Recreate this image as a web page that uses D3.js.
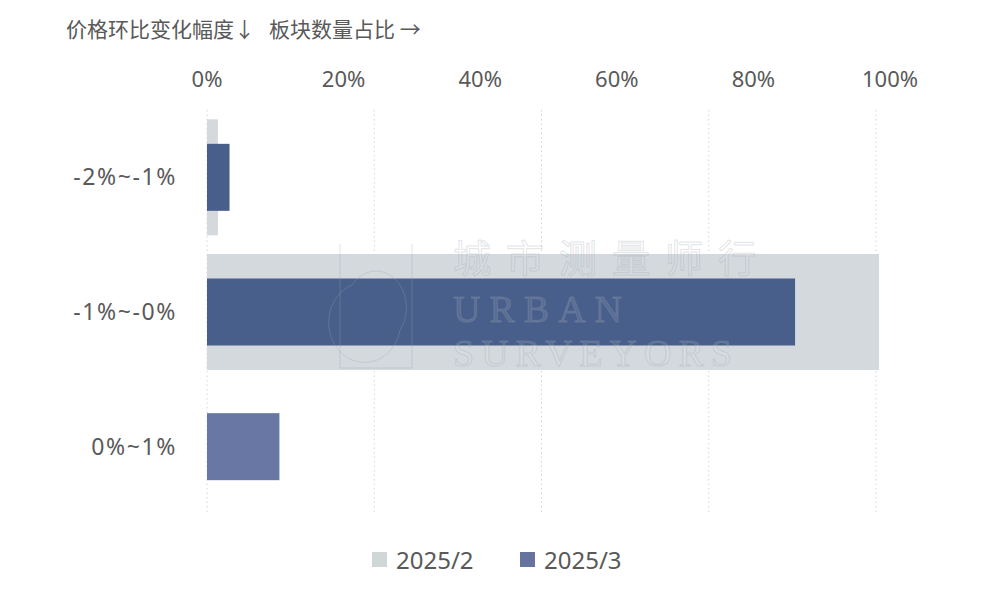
<!DOCTYPE html>
<html><head><meta charset="utf-8">
<script src="https://cdn.jsdelivr.net/npm/d3@7"></script>
<style>
body{margin:0;background:#fff;}
text{font-family:"Noto Sans","Noto Sans CJK SC",sans-serif;}
</style></head>
<body><svg id="c" width="997" height="597"></svg>
<script>
const categories = ["-2%~-1%", "-1%~-0%", "0%~1%"];
const seriesNames = ["2025/2", "2025/3"];
const feb = [0.016, 0.984, 0];
const mar = [0.033, 0.861, 0.106];
const tickValues = [0, 0.2, 0.4, 0.6, 0.8, 1];
const titleText = "价格环比变化幅度↓   板块数量占比 →";

const svg = d3.select("#c");
const x = d3.scaleLinear().domain([0, 1]).range([207, 890]);
const xGrid = d3.scaleLinear().domain([0, 4]).range([207, 876]);
const y = d3.scaleBand().domain(categories).range([110, 514]);
const greyH = 116, blueH = 67;
const cGrey = "#d3d9dd", cBlue = ["#485e8b", "#485e8b", "#6877a3"], cLegBlue = "#67739f", cLegGrey = "#cfd8d7";
const txt = "#595959";

// gridlines
svg.append("g").selectAll("line").data(d3.range(5)).join("line")
  .attr("x1", d => xGrid(d)).attr("x2", d => xGrid(d))
  .attr("y1", 110).attr("y2", 514)
  .attr("stroke", "#d4d4d4").attr("stroke-width", 1).attr("stroke-dasharray", "1.5,3");

// grey bars
svg.append("g").selectAll("rect").data(feb).join("rect")
  .attr("x", x(0)).attr("y", (d, i) => y(categories[i]) + y.bandwidth() / 2 - greyH / 2)
  .attr("width", d => x(d) - x(0)).attr("height", greyH).attr("fill", cGrey);

// blue bars
svg.append("g").selectAll("rect").data(mar).join("rect")
  .attr("x", x(0)).attr("y", (d, i) => y(categories[i]) + y.bandwidth() / 2 - blueH / 2)
  .attr("width", d => x(d) - x(0)).attr("height", blueH).attr("fill", (d, i) => cBlue[i]);

// watermark
const wm = svg.append("g").attr("fill", "#ffffff").attr("fill-opacity", 0.1)
  .attr("stroke", "#9aa3ad").attr("stroke-opacity", 0.3).attr("stroke-width", 1);
wm.append("text").attr("x", 453).attr("y", 272).attr("font-size", 38).attr("letter-spacing", 15)
  .style("font-family", "Noto Sans CJK SC").text("城市测量师行");
wm.append("text").attr("x", 453).attr("y", 322).attr("font-size", 38).attr("letter-spacing", 9)
  .style("font-family", "Liberation Serif").text("URBAN");
wm.append("text").attr("x", 453).attr("y", 366).attr("font-size", 38).attr("letter-spacing", 7)
  .style("font-family", "Liberation Serif").text("SURVEYORS");
wm.append("path").attr("fill", "none")
  .attr("d", "M340,244 V368 H412 V244 M352,285 A36,40 0 1,0 400,330 A30,36 0 0,0 352,285");

// x tick labels
svg.append("g").selectAll("text").data(tickValues).join("text")
  .attr("x", d => x(d)).attr("y", 87).attr("text-anchor", "middle")
  .attr("font-size", 22).attr("fill", txt).text(d => d3.format(".0%")(d));

// category labels
svg.append("g").selectAll("text").data(categories).join("text")
  .attr("x", 177).attr("y", d => y(d) + y.bandwidth() / 2 + 8).attr("text-anchor", "end")
  .attr("font-size", 23).attr("letter-spacing", 1.6).attr("fill", txt).text(d => d);

// title
svg.append("text").attr("x", 66).attr("y", 37).attr("font-size", 21).attr("fill", txt)
  .style("font-family", "Noto Sans CJK SC").style("white-space", "pre").text(titleText);

// legend
const leg = svg.append("g");
const legX = [372, 520];
const legCol = [cLegGrey, cLegBlue];
seriesNames.forEach((n, i) => {
  leg.append("rect").attr("x", legX[i]).attr("y", 552).attr("width", 15).attr("height", 15).attr("fill", legCol[i]);
  leg.append("text").attr("x", legX[i] + 24).attr("y", 569).attr("font-size", 24).attr("fill", txt).text(n);
});
</script></body></html>
